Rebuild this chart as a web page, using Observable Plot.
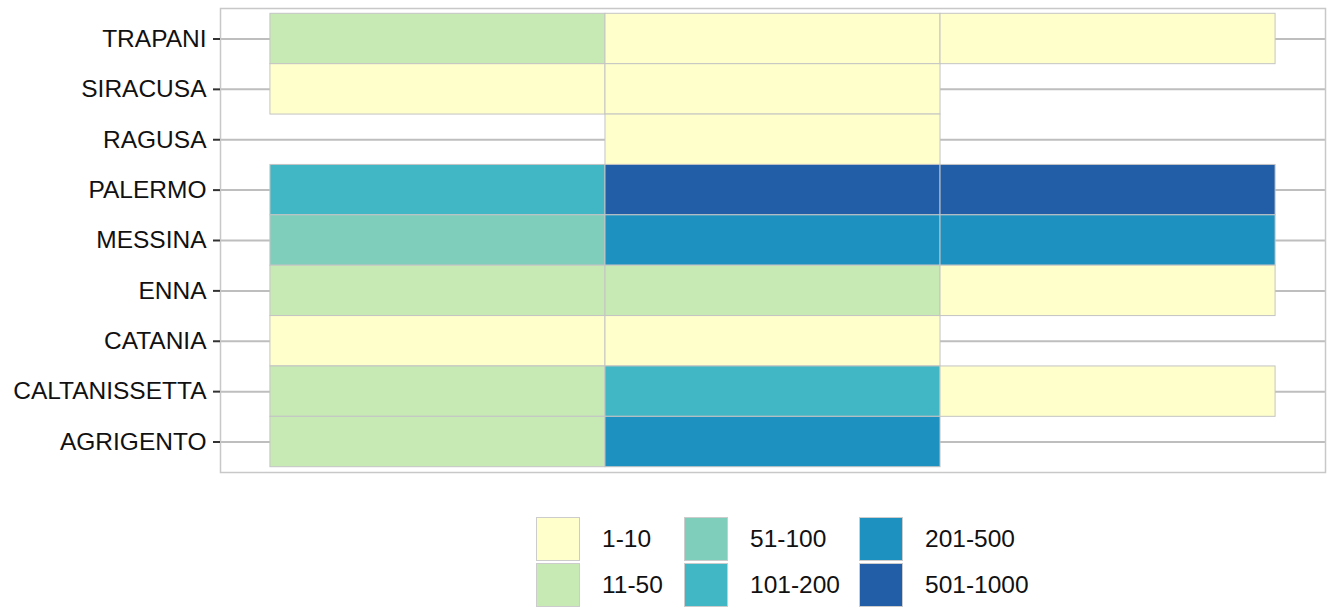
<!DOCTYPE html>
<html><head><meta charset="utf-8">
<script src="https://cdn.jsdelivr.net/npm/d3@7"></script>
<script src="https://cdn.jsdelivr.net/npm/@observablehq/plot@0.6"></script>
<style>
body{margin:0;background:#fff;font-family:"Liberation Sans",Arial,sans-serif;}
#chart svg{display:block;}
#legend{display:flex;margin-left:536px;margin-top:37px;}
.lcol{display:flex;flex-direction:column;gap:2px;}
.litem{display:flex;align-items:center;height:44px;}
.sw{width:44px;height:44px;box-sizing:border-box;border:1px solid #cccccc;}
.lt{margin-left:22px;font-size:24.5px;color:#111;}
</style></head><body><div id="chart"></div><div id="legend"></div>
<script>
const provinces = ["TRAPANI","SIRACUSA","RAGUSA","PALERMO","MESSINA","ENNA","CATANIA","CALTANISSETTA","AGRIGENTO"];
const periods = ["1","2","3"];
const classes = ["1-10","11-50","51-100","101-200","201-500","501-1000"];
const palette = ["#ffffcc","#c7e9b4","#7fcdbb","#41b6c4","#1d91c0","#225ea8"];
const period1 = ["11-50","1-10",null,"101-200","51-100","11-50","1-10","11-50","11-50"];
const period2 = ["1-10","1-10","1-10","501-1000","201-500","11-50","1-10","101-200","201-500"];
const period3 = ["1-10",null,null,"501-1000","201-500","1-10",null,"1-10",null];

const cols = [period1, period2, period3];
const data = [];
cols.forEach((c, j) => c.forEach((v, i) => { if (v) data.push({province: provinces[i], period: periods[j], cls: v}); }));

const chart = Plot.plot({
  width: 1330, height: 480,
  marginTop: 8, marginBottom: 8, marginLeft: 220, marginRight: 5,
  style: {fontFamily: '"Liberation Sans", Arial, sans-serif', fontSize: "24.5px", color: "#111", background: "#fff"},
  x: {domain: periods, paddingInner: 0, paddingOuter: 0.149, round: false, axis: null},
  y: {domain: provinces, paddingInner: 0, paddingOuter: 0.105, round: false, label: null},
  color: {type: "ordinal", domain: classes, range: palette},
  marks: [
    Plot.gridY({stroke: "#bebebe", strokeOpacity: 1, strokeWidth: 2}),
    Plot.cell(data, {x: "period", y: "province", fill: "cls", stroke: "#c4c4c4", strokeWidth: 1, inset: 0}),
    Plot.frame({stroke: "#c8c8c8", strokeWidth: 1.5}),
    Plot.axisY({tickSize: 7, tickPadding: 7, stroke: "#333", strokeWidth: 2, fill: "#111", label: null})
  ]
});
document.getElementById("chart").appendChild(chart);

// legend: column-major 3 columns x 2 rows
const legend = document.getElementById("legend");
const colWidths = [148, 175, null];
for (let c = 0; c < 3; c++) {
  const col = document.createElement("div");
  col.className = "lcol";
  if (colWidths[c]) col.style.width = colWidths[c] + "px";
  for (let r = 0; r < 2; r++) {
    const k = c * 2 + r;
    const it = document.createElement("div");
    it.className = "litem";
    it.innerHTML = `<div class="sw" style="background:${palette[k]}"></div><span class="lt">${classes[k]}</span>`;
    col.appendChild(it);
  }
  legend.appendChild(col);
}
</script></body></html>
